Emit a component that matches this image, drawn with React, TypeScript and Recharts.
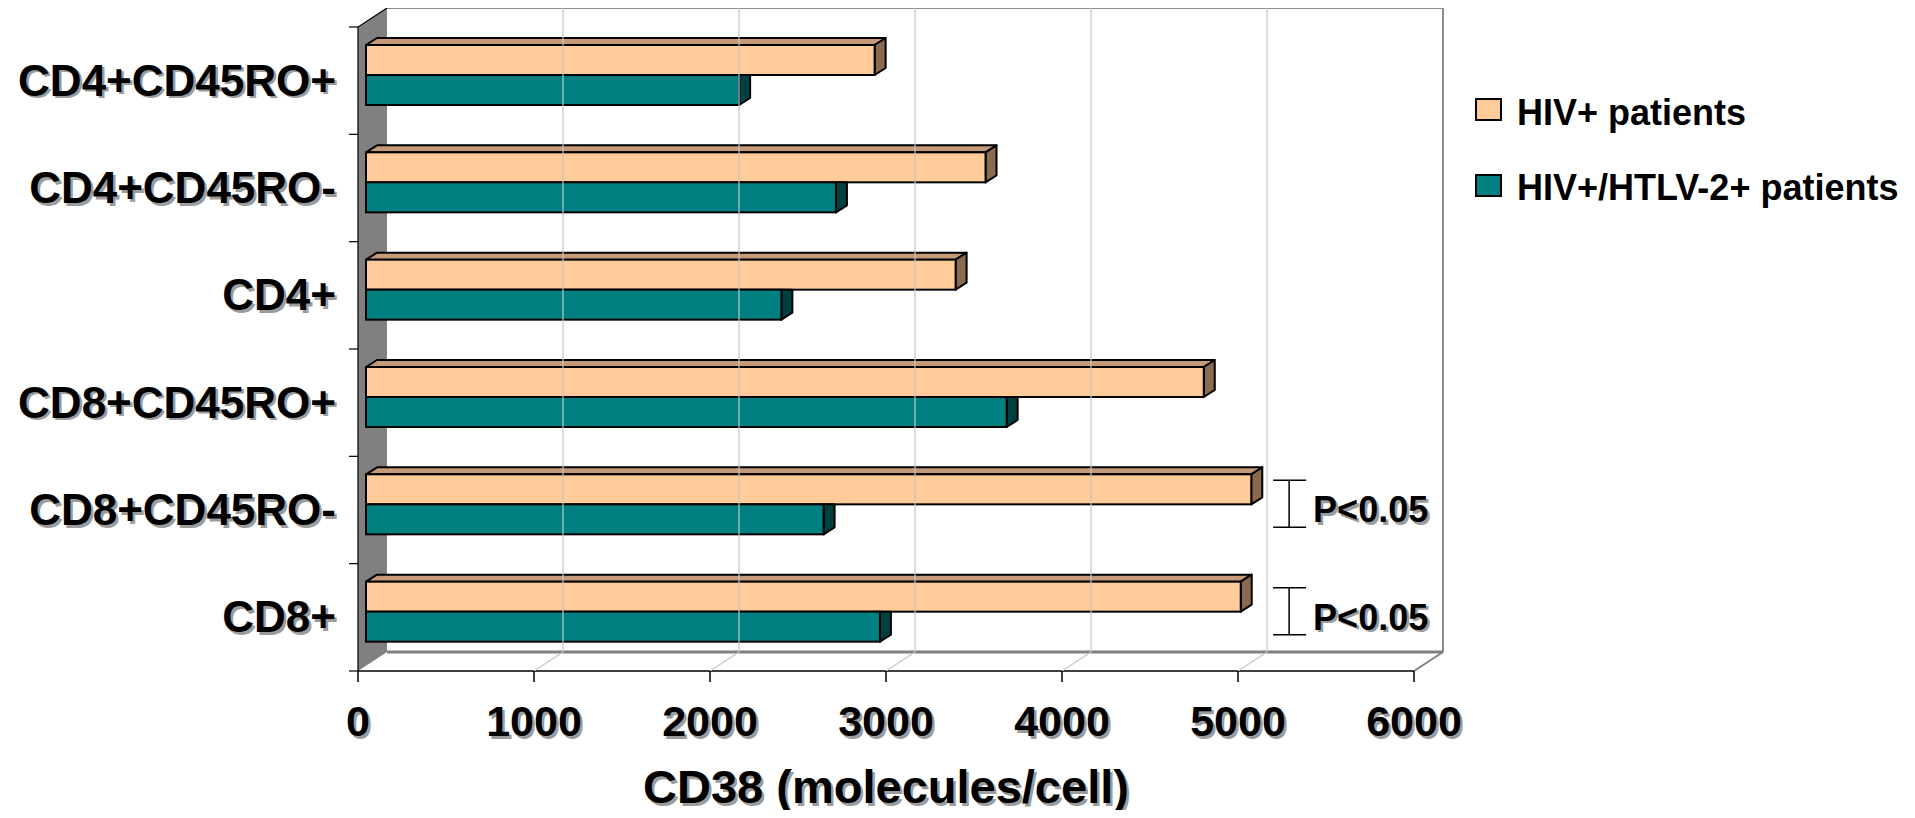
import React from 'react';
import { BarChart, Bar, XAxis, YAxis, Legend, LabelList, ReferenceArea, ReferenceLine, Label } from 'recharts';

// categories top to bottom
const categories = ['CD4+CD45RO+', 'CD4+CD45RO-', 'CD4+', 'CD8+CD45RO+', 'CD8+CD45RO-', 'CD8+'];
const seriesNames = ['HIV+ patients', 'HIV+/HTLV-2+ patients'];
const hivValues = [2890, 3520, 3350, 4760, 5030, 4970];
const coinfectedValues = [2120, 2670, 2360, 3640, 2600, 2920];
const significance = ['', '', '', '', 'P<0.05', 'P<0.05'];
const xTicks = [0, 1000, 2000, 3000, 4000, 5000, 6000];
const xTitle = 'CD38 (molecules/cell)';

const data = categories.map((name, i) => ({
  name,
  hiv: hivValues[i],
  coinfected: coinfectedValues[i],
  sig: significance[i],
}));

const FONT = '"Liberation Sans", Arial, Helvetica, sans-serif';
const PEACH = '#FFCC99';
const PEACH_TOP = '#C49A78';
const PEACH_SIDE = '#8B6B4F';
const TEAL = '#008080';
const TEAL_SIDE = '#004040';

// 3d offsets, measured from the bars' plane
const FRONT = { dx: -8, dy: 6 };
const BACK = { dx: 21, dy: -13 };
const BAR_DEPTH = { dx: 11, dy: 7 };
const SIG_X = 5245; // where the p-value brackets sit on the value axis

function ShadowText({ x, y, size, anchor, children }: any) {
  return (
    <g>
      <text x={x + 2.5} y={y + 2.5} fontSize={size} fontWeight="bold" fontFamily={FONT} textAnchor={anchor} fill="#9c9c9c">
        {children}
      </text>
      <text x={x} y={y} fontSize={size} fontWeight="bold" fontFamily={FONT} textAnchor={anchor} fill="#000">
        {children}
      </text>
    </g>
  );
}

// walls, floor and frame of the 3d box
function Frame(props: any) {
  const { x, y, width, height } = props;
  const fx = x + FRONT.dx;
  const bx = x + BACK.dx;
  const fTop = y + FRONT.dy;
  const fBot = y + height + FRONT.dy;
  const bTop = y + BACK.dy;
  const bBot = y + height + BACK.dy;
  const fRight = x + width + FRONT.dx;
  const bRight = x + width + BACK.dx;
  const band = height / categories.length;
  return (
    <g>
      <polygon points={`${fx},${fTop} ${bx},${bTop} ${bx},${bBot} ${fx},${fBot}`} fill="#808080" />
      <polyline points={`${bx},${bTop} ${bRight},${bTop} ${bRight},${bBot}`} fill="none" stroke="#8c8c8c" strokeWidth={2} />
      <line x1={bx} y1={bBot} x2={bRight} y2={bBot} stroke="#808080" strokeWidth={3} />
      <line x1={fRight} y1={fBot} x2={bRight} y2={bBot} stroke="#808080" strokeWidth={2} />
      <polyline points={`${fx},${fBot} ${fx},${fTop} ${bx},${bTop}`} fill="none" stroke="#000" strokeWidth={1.2} />
      <line x1={fx} y1={fBot} x2={fRight} y2={fBot} stroke="#000" strokeWidth={1.5} />
      {categories.concat(['']).map((_, i) => (
        <line key={i} x1={fx - 9} y1={fTop + i * band} x2={fx} y2={fTop + i * band} stroke="#000" strokeWidth={1.2} />
      ))}
    </g>
  );
}

const gridShape = (value: number) => (props: any) => {
  const { x1, y1, y2 } = props;
  const top = Math.min(y1, y2);
  const bot = Math.max(y1, y2);
  const inner = value > xTicks[0] && value < xTicks[xTicks.length - 1];
  return (
    <g>
      {inner && (
        <line x1={x1 + BACK.dx} y1={top + BACK.dy} x2={x1 + BACK.dx} y2={bot + BACK.dy} stroke="#c4c4c4" strokeWidth={1.2} />
      )}
      {inner && (
        <line x1={x1 + FRONT.dx} y1={bot + FRONT.dy} x2={x1 + BACK.dx} y2={bot + BACK.dy} stroke="#c4c4c4" strokeWidth={1.2} />
      )}
      <line x1={x1 + FRONT.dx} y1={bot + FRONT.dy} x2={x1 + FRONT.dx} y2={bot + FRONT.dy + 11} stroke="#000" strokeWidth={1.5} />
    </g>
  );
};

const barShape = (topColor: string | null, sideColor: string) => (props: any) => {
  const { x, y, width, height, fill } = props;
  const r = x + width;
  const { dx, dy } = BAR_DEPTH;
  const side = topColor
    ? `${r},${y} ${r + dx},${y - dy} ${r + dx},${y + height - dy} ${r},${y + height}`
    : `${r},${y} ${r + dx},${y} ${r + dx},${y + height - dy} ${r},${y + height}`;
  return (
    <g>
      {topColor && (
        <polygon points={`${x},${y} ${x + dx},${y - dy} ${r + dx},${y - dy} ${r},${y}`} fill={topColor} stroke="#000" strokeWidth={2} strokeLinejoin="round" />
      )}
      <polygon points={side} fill={sideColor} stroke="#000" strokeWidth={2} strokeLinejoin="round" />
      <rect x={x} y={y} width={width} height={height} fill={fill} stroke="#000" strokeWidth={2} />
    </g>
  );
};

const renderSig = (props: any) => {
  const { x, y, width, value, index } = props;
  if (!value) return null;
  const bx = x + (width / hivValues[index]) * SIG_X;
  const top = y + 6;
  const bot = y + 53;
  return (
    <g>
      <line x1={bx} y1={top} x2={bx} y2={bot} stroke="#000" strokeWidth={1.5} />
      <line x1={bx - 16} y1={top} x2={bx + 17} y2={top} stroke="#000" strokeWidth={1.5} />
      <line x1={bx - 16} y1={bot} x2={bx + 17} y2={bot} stroke="#000" strokeWidth={1.5} />
      <ShadowText x={bx + 24} y={y + 48} size={36} anchor="start">{value}</ShadowText>
    </g>
  );
};

const renderXTick = (props: any) => {
  const { x, y, payload } = props;
  return (
    <ShadowText x={x + FRONT.dx} y={y + 71} size={43} anchor="middle">{payload.value}</ShadowText>
  );
};

const renderYTick = (props: any) => {
  const { x, y, payload } = props;
  return (
    <ShadowText x={x - 30} y={y + 21} size={44} anchor="end">{payload.value}</ShadowText>
  );
};

const renderXTitle = (props: any) => {
  const { viewBox } = props;
  return (
    <ShadowText x={viewBox.x + viewBox.width / 2 + FRONT.dx} y={viewBox.y + 138} size={47} anchor="middle">{xTitle}</ShadowText>
  );
};

const renderLegend = (props: any) => {
  const { payload } = props;
  return (
    <svg width={440} height={130} style={{ overflow: 'visible' }}>
      {(payload || []).map((entry: any, i: number) => (
        <g key={entry.value}>
          <rect x={1} y={9 + i * 76} width={25} height={21} fill={entry.color} stroke="#000" strokeWidth={2} />
          <text x={42} y={35 + i * 75} fontSize={36} fontWeight="bold" fontFamily={FONT} fill="#000">{entry.value}</text>
        </g>
      ))}
    </svg>
  );
};

export default function App() {
  return (
    <div style={{ height: 802, overflow: 'visible' }}>
      <BarChart
        width={1895}
        height={810}
        data={data}
        layout="vertical"
        barGap={0}
        margin={{ top: 13, right: 481, bottom: 8, left: 8 }}
      >
        <XAxis
          type="number"
          domain={[0, 6000]}
          ticks={xTicks}
          interval={0}
          axisLine={false}
          tickLine={false}
          tickSize={0}
          tickMargin={0}
          height={145}
          tick={renderXTick}
        >
          <Label content={renderXTitle} />
        </XAxis>
        <YAxis
          type="category"
          dataKey="name"
          width={350}
          interval={0}
          axisLine={false}
          tickLine={false}
          tickSize={0}
          tickMargin={0}
          tick={renderYTick}
        />
        <ReferenceArea x1={0} x2={6000} shape={Frame} fill="none" />
        {xTicks.map((t) => (
          <ReferenceLine key={t} x={t} shape={gridShape(t)} />
        ))}
        <Legend
          layout="vertical"
          align="center"
          verticalAlign="middle"
          content={renderLegend}
          wrapperStyle={{ left: 1467, top: 82, width: 440 }}
        />
        <Bar dataKey="hiv" name={seriesNames[0]} fill={PEACH} barSize={30} shape={barShape(PEACH_TOP, PEACH_SIDE)} isAnimationActive={false}>
          <LabelList dataKey="sig" content={renderSig} />
        </Bar>
        <Bar dataKey="coinfected" name={seriesNames[1]} fill={TEAL} barSize={30} shape={barShape(null, TEAL_SIDE)} isAnimationActive={false} />
      </BarChart>
    </div>
  );
}
